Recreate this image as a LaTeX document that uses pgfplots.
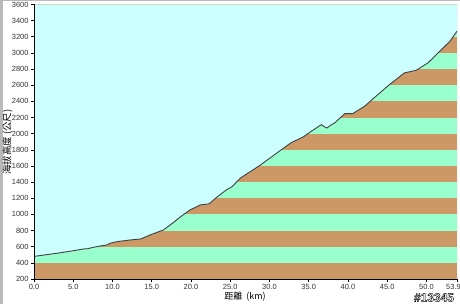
\documentclass[border=0pt]{standalone}
\usepackage{pgfplots}
\pgfplotsset{compat=1.18}
\usepackage{pgfplotstable}
\usepackage{fontspec}
\setmainfont{Liberation Sans}
\newfontfamily\cjk{Noto Sans CJK TC}
\definecolor{sky}{HTML}{CCFFFF}
\definecolor{tanc}{HTML}{CC9966}
\definecolor{mint}{HTML}{99FFCC}
\definecolor{profc}{HTML}{404040}
\pgfplotstableread{
d h
0.0 480
1.5 500
3.0 520
3.75 531
5.0 550
6.3 572
6.8 575
7.6 593
8.5 610
9.3 622
9.7 643
10.6 663
12.3 684
13.6 696
14.8 746
16.5 808
17.5 880
18.7 973
19.9 1056
21.2 1118
22.3 1131
23.4 1221
24.6 1310
25.2 1340
26.3 1450
28.9 1615
31.5 1800
32.7 1884
34.4 1966
35.3 2028
36.6 2111
37.3 2070
37.9 2111
38.3 2132
39.6 2248
40.6 2248
42.1 2338
43.8 2483
45.3 2608
47.2 2753
48.7 2785
50.2 2877
51.5 3001
53.0 3145
53.9 3270
}\prof
\begin{document}
\begin{tikzpicture}
\path[use as bounding box] (0,0) rectangle (460bp,304bp);
\fill[white] (0,0) rectangle (460bp,304bp);
\fill[gray!55] (0,0) rectangle (2.5bp,304bp);
\fill[gray!55] (0,302.5bp) rectangle (460bp,304bp);
\begin{axis}[
  at={(34bp,25bp)}, anchor=south west,
  scale only axis, width=423bp, height=274.5bp,
  xmin=0, xmax=53.9, ymin=200, ymax=3600,
  xtick={0,5,10,15,20,25,30,35,40,45,50},
  extra x ticks={53.9},
  extra x tick style={xticklabel style={xshift=-3.5bp}},
  ytick={200,400,...,3600},
  xticklabel style={/pgf/number format/fixed, /pgf/number format/fixed zerofill, /pgf/number format/precision=1, yshift=1bp},
  yticklabel style={/pgf/number format/1000 sep={}, xshift=1bp},
  /pgf/number format/assume math mode=true,
  tick label style={font=\fontsize{7.5}{8}\selectfont, text=black!80},
  tick align=outside, major tick length=3bp,
  tick style={black, line width=0.6bp},
  axis x line*=bottom, axis y line*=left,
  axis line style={black, line width=0.9bp, -},
  axis on top=true,
  clip=true,
]
\addplot[draw=none, fill=tanc] coordinates {(0,3600)(53.9,3600)} \closedcycle;
\addplot[draw=none, fill=mint] coordinates {(0,3400)(53.9,3400)} \closedcycle;
\addplot[draw=none, fill=tanc] coordinates {(0,3200)(53.9,3200)} \closedcycle;
\addplot[draw=none, fill=mint] coordinates {(0,3000)(53.9,3000)} \closedcycle;
\addplot[draw=none, fill=tanc] coordinates {(0,2800)(53.9,2800)} \closedcycle;
\addplot[draw=none, fill=mint] coordinates {(0,2600)(53.9,2600)} \closedcycle;
\addplot[draw=none, fill=tanc] coordinates {(0,2400)(53.9,2400)} \closedcycle;
\addplot[draw=none, fill=mint] coordinates {(0,2200)(53.9,2200)} \closedcycle;
\addplot[draw=none, fill=tanc] coordinates {(0,2000)(53.9,2000)} \closedcycle;
\addplot[draw=none, fill=mint] coordinates {(0,1800)(53.9,1800)} \closedcycle;
\addplot[draw=none, fill=tanc] coordinates {(0,1600)(53.9,1600)} \closedcycle;
\addplot[draw=none, fill=mint] coordinates {(0,1400)(53.9,1400)} \closedcycle;
\addplot[draw=none, fill=tanc] coordinates {(0,1200)(53.9,1200)} \closedcycle;
\addplot[draw=none, fill=mint] coordinates {(0,1000)(53.9,1000)} \closedcycle;
\addplot[draw=none, fill=tanc] coordinates {(0,800)(53.9,800)} \closedcycle;
\addplot[draw=none, fill=mint] coordinates {(0,600)(53.9,600)} \closedcycle;
\addplot[draw=none, fill=tanc] coordinates {(0,400)(53.9,400)} \closedcycle;
\addplot[draw=none, fill=sky] table[x=d,y=h]{\prof} |- (axis cs:0,3600) -- cycle;
\addplot[profc, line width=0.9bp] table[x=d,y=h]{\prof};
\draw[gray!60, line width=0.8bp] (rel axis cs:1,0) -- (rel axis cs:1,1);
\end{axis}
\node[rotate=90, font=\cjk\fontsize{9.5}{10}\selectfont] at (7.5bp,162bp) {海拔高度 (公尺)};
\node[font=\cjk\fontsize{9}{10}\selectfont, inner sep=0pt] at (245bp,7.5bp) {距離\ \ (km)};
\node[font=\bfseries\fontsize{12}{12}\selectfont, inner sep=0pt] at (434bp,6.5bp) {\textcolor{white}{\special{pdf:code 2 Tr 0.4 w 0 0 0 RG}\#13345\special{pdf:code 0 Tr}}};
\end{tikzpicture}
\end{document}
